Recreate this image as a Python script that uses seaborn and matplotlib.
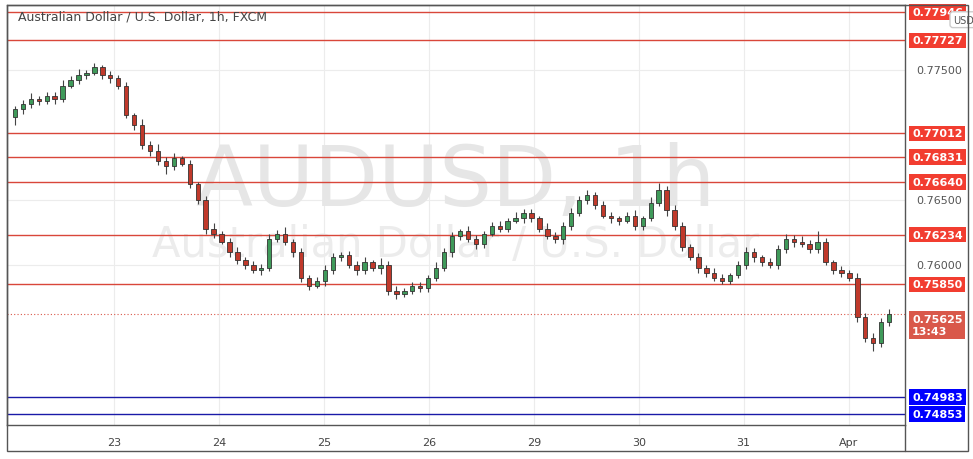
import matplotlib
matplotlib.use("Agg")
import matplotlib.pyplot as plt
import matplotlib.transforms as mtransforms
import numpy as np
import pandas as pd
import seaborn as sns

closes = [7720,7724,7728,7726,7730,7728,7738,7742,7746,7748,7752,7746,7744,7738,7715,7708,
          7692,7688,7680,7676,7682,7678,7662,7650,7628,7624,7618,7610,7604,7600,7596,7598,
          7620,7624,7618,7610,7590,7584,7588,7596,7606,7608,7600,7596,7602,7598,7600,7580,
          7578,7580,7584,7582,7590,7598,7610,7622,7626,7620,7616,7624,7630,7628,7634,7636,
          7640,7636,7628,7622,7620,7630,7640,7650,7654,7646,7638,7636,7634,7638,7630,7636,
          7648,7658,7642,7630,7614,7606,7598,7594,7590,7588,7592,7600,7610,7606,7602,7600,
          7612,7620,7618,7616,7612,7618,7602,7596,7594,7590,7560,7544,7540,7556,7562]
first_open = 7714
wick_up = [2,3,4,2,3,3,4,3,5,2,3,2,3,2,3,2,4,3,5,3,4,2,3,2,3,4,2,3,4,2,3,3,
           4,3,5,2,3,2,3,4,3,2,3,3,4,2,5,3,4,2,3,3,2,4,3,3,2,4,3,2,3,4,2,5,
           3,3,2,4,3,3,4,3,4,2,3,3,2,3,4,2,4,5,3,4,3,2,3,2,4,3,2,3,4,3,2,3,
           3,4,3,4,3,8,3,2,3,2,4,3,4,3,4]
wick_dn = [6,4,3,3,2,4,3,2,3,3,2,3,4,3,2,4,3,4,3,6,3,2,3,3,4,3,2,4,3,3,2,4,
           3,2,3,4,3,3,2,4,3,3,2,4,3,3,5,3,4,3,2,3,3,2,3,4,3,2,4,3,2,3,3,2,
           4,3,3,2,3,4,3,2,3,3,2,4,3,2,3,3,2,3,4,3,3,2,4,3,2,3,3,2,3,4,3,2,
           3,3,4,2,3,3,2,3,3,2,4,3,6,3,3]
day_labels = ["23","24","25","26","29","30","31","Apr"]
day_pos = [12.5,25.7,38.9,52.1,65.3,78.5,91.7,104.9]
red_levels = [0.77946,0.77727,0.77012,0.76831,0.76640,0.76234,0.75850]
blue_levels = [0.74983,0.74853]
grid_ticks = [0.77500,0.76500,0.76000]
last_price = 0.75625

c = np.array(closes) / 1e4
o = np.concatenate([[first_open / 1e4], c[:-1]])
hi = np.maximum(o, c) + np.array(wick_up) / 1e4
lo = np.minimum(o, c) - np.array(wick_dn) / 1e4
df = pd.DataFrame({"i": np.arange(len(c)), "open": o, "close": c, "high": hi, "low": lo})
df["up"] = df.close >= df.open

sns.set_theme(style="white")
fig = plt.figure(figsize=(9.73, 4.6), dpi=100)
ax = fig.add_axes([7/973, 34/460, 898/973, 420/460])
ax.set_xlim(-1, 112)
ax.set_ylim(0.74769, 0.78000)

for t in grid_ticks:
    ax.axhline(t, color="#ececec", lw=0.8, zorder=0)
for p in day_pos:
    ax.axvline(p, color="#ececec", lw=0.8, zorder=0)

ax.text(0.5, 0.58, "AUDUSD, 1h", transform=ax.transAxes, ha="center", va="center",
        fontsize=60, color="#e6e6e6", zorder=0)
ax.text(0.5, 0.43, "Australian Dollar / U.S. Dollar", transform=ax.transAxes, ha="center",
        va="center", fontsize=30, color="#ececec", zorder=0)

ax.vlines(df.i, df.low, df.high, color="#444444", lw=0.8, zorder=2)
bottom = np.minimum(df.open, df.close)
height = np.maximum(np.abs(df.close - df.open), 0.00005)
colors = np.where(df.up, "#3f9a5a", "#c0392b")
ax.bar(df.i, height, bottom=bottom, width=0.55, color=colors, edgecolor="#333333",
       linewidth=0.6, zorder=3)

trans = mtransforms.blended_transform_factory(ax.transAxes, ax.transData)
for lv in red_levels:
    ax.axhline(lv, color="#d9473a", lw=1.0, zorder=1)
    ax.text(1.008, lv, f"{lv:.5f}", transform=trans, va="center", ha="left", fontsize=8,
            color="white", fontweight="bold",
            bbox=dict(boxstyle="square,pad=0.25", fc="#f23d30", ec="none"))
for lv in blue_levels:
    ax.axhline(lv, color="#1a1aa8", lw=1.0, zorder=1)
    ax.text(1.008, lv, f"{lv:.5f}", transform=trans, va="center", ha="left", fontsize=8,
            color="white", fontweight="bold",
            bbox=dict(boxstyle="square,pad=0.25", fc="#0000ff", ec="none"))
ax.axhline(last_price, color="#d9584a", lw=0.8, ls=(0, (1, 2)), zorder=1)
ax.text(1.008, last_price, f"{last_price:.5f}\n13:43", transform=trans, va="top", ha="left",
        fontsize=8, color="white", fontweight="bold", linespacing=1.3,
        bbox=dict(boxstyle="square,pad=0.25", fc="#d9584a", ec="none"))
ax.text(1.008, last_price + 0.00012, "", transform=trans)
for t in grid_ticks:
    ax.text(1.012, t, f"{t:.5f}", transform=trans, va="center", ha="left", fontsize=8,
            color="#555555")
ax.text(1.065, 0.965, "USD", transform=ax.transAxes, va="center", ha="center", fontsize=7,
        color="#555555", bbox=dict(boxstyle="round,pad=0.3", fc="white", ec="#cccccc"))

ax.text(0.012, 0.975, "Australian Dollar / U.S. Dollar, 1h, FXCM", transform=ax.transAxes,
        va="center", ha="left", fontsize=9, color="#444444")

ax.set_xticks(day_pos)
ax.set_xticklabels(day_labels, fontsize=8, color="#444444")
ax.tick_params(axis="x", length=3, color="#555555", pad=6)
ax.set_yticks([])
for s in ax.spines.values():
    s.set_color("#555555")
    s.set_linewidth(1.0)

# outer frame
fig.add_artist(plt.Rectangle((7/973, 8/460), 961/973, 446/460, fill=False,
                             ec="#555555", lw=1.0, transform=fig.transFigure))
fig.add_artist(plt.Line2D([905/973, 905/973], [8/460, 34/460], color="#555555", lw=1.0,
                          transform=fig.transFigure))
fig.savefig("out.png", dpi=100)
